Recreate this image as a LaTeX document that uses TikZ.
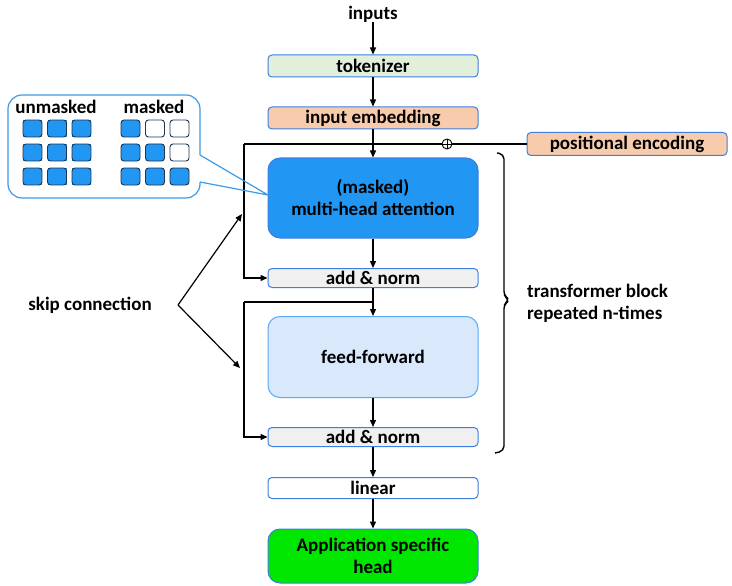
\documentclass[tikz,border=0pt]{standalone}
\usepackage{fontspec}
\setmainfont{Carlito}
\usetikzlibrary{arrows.meta}
\definecolor{boxedge}{HTML}{3D7FE0}
\definecolor{tokfill}{HTML}{E2EFDA}
\definecolor{embfill}{HTML}{F8CBAD}
\definecolor{attfill}{HTML}{2196F3}
\definecolor{fffill}{HTML}{DAE8FC}
\definecolor{ffedge}{HTML}{5BA8F5}
\definecolor{normfill}{HTML}{F0F0F0}
\definecolor{headfill}{HTML}{00E600}
\definecolor{calloutedge}{HTML}{3C9BE8}
\definecolor{cellfill}{HTML}{2196F3}
\definecolor{celledge}{HTML}{1F3550}
\tikzset{
  x=1pt, y=-1pt,
  lbl/.style={font=\fontsize{19}{21}\selectfont\bfseries, inner sep=0pt},
  layer/.style={lbl, draw=boxedge, line width=1pt, rounded corners=4pt,
    minimum width=210pt, align=center},
  big/.style={layer, rounded corners=12pt},
  flow/.style={line width=1.4pt, -{Triangle[length=7pt,width=6pt]}},
  wire/.style={line width=1.4pt},
  cell/.style={draw=celledge, line width=0.9pt, rounded corners=3pt},
}
\begin{document}
\begin{tikzpicture}
\useasboundingbox (0,0) rectangle (732,586);

% main stack
\node[lbl] (inputs) at (373,14) {inputs};
\node[layer, fill=tokfill, minimum height=22pt] (tok) at (373,66) {tokenizer};
\node[layer, fill=embfill, minimum height=22pt] (emb) at (373,118) {input embedding};
\node[layer, fill=embfill, minimum width=200pt, minimum height=23pt] (pe) at (627,144) {positional encoding};
\node[big, fill=attfill, minimum height=80pt] (att) at (373,198) {(masked)\\[1pt]multi-head attention};
\node[layer, fill=normfill, minimum height=19pt] (add1) at (373,278) {add \& norm};
\node[big, fill=fffill, draw=ffedge, minimum height=81pt] (ff) at (373,357) {feed-forward};
\node[layer, fill=normfill, minimum height=19pt] (add2) at (373,437) {add \& norm};
\node[layer, fill=white, minimum height=21pt] (lin) at (373,488) {linear};
\node[big, fill=headfill, minimum height=54pt] (head) at (373,556) {Application specific\\[1pt]head};

% positional encoding joins the stream
\node[draw, circle, line width=0.9pt, minimum size=10pt, inner sep=0pt, fill=white,
  path picture={\draw[line width=0.9pt] (path picture bounding box.north) -- (path picture bounding box.south)
    (path picture bounding box.west) -- (path picture bounding box.east);}] (plus) at (447,144) {};
\coordinate (lefttop) at (244,144);
\draw[wire] (pe.west) -- (plus.east);
\draw[wire] (plus.west) -- (lefttop);
\draw[flow] (lefttop) |- (add1.west);

% forward connections
\draw[flow] (inputs.south) -- (tok.north);
\draw[flow] (tok.south) -- (emb.north);
\draw[flow] (emb.south) -- (att.north);
\draw[flow] (att.south) -- (add1.north);
\draw[flow] (add1.south) -- (ff.north);
\draw[flow] (ff.south) -- (add2.north);
\draw[flow] (add2.south) -- (lin.north);
\draw[flow] (lin.south) -- (head.north);

% second residual path
\coordinate (branch) at (373,302);
\coordinate (leftmid) at (244,302);
\draw[wire] (branch) -- (leftmid);
\draw[flow] (leftmid) |- (add2.west);

% skip connection label and pointers
\node[lbl] (skip) at (90,305) {skip connection};
\coordinate (fork) at (178,305);
\coordinate (skipa) at (242,214);
\coordinate (skipb) at (240,368);
\draw[flow, line width=1.2pt] (fork) -- (skipa);
\draw[flow, line width=1.2pt] (fork) -- (skipb);

% brace around the repeated block
\draw[line width=1.4pt, rounded corners=5pt] (497,153) -- (504,154) -- (504,296) -- (510,300) -- (504,304) -- (504,451) -- (495,453);
\node[lbl, anchor=west, align=left] (rep) at (527,303) {transformer block\\[1pt]repeated n-times};

% callout with attention masks
\draw[calloutedge, line width=1.2pt, fill=white, rounded corners=14pt]
  (200,155) -- (200,95) -- (8,95) -- (8,198) -- (200,198) -- (200,182);
\coordinate (tip) at (268,195);
\draw[calloutedge, line width=1.2pt] (200,155) -- (tip) -- (200,182);
\node[lbl] (unm) at (56,107) {unmasked};
\node[lbl] (msk) at (154,107) {masked};
\foreach \r in {0,1,2} {
  \foreach \c in {0,1,2} {
    \fill[cellfill] (23+24.5*\c,120+24*\r) rectangle ++(19,17);
    \draw[cell] (23+24.5*\c,120+24*\r) rectangle ++(19,17);
  }
}
\foreach \r/\c/\f in {0/0/cellfill,0/1/white,0/2/white,1/0/cellfill,1/1/cellfill,1/2/white,2/0/cellfill,2/1/cellfill,2/2/cellfill} {
  \draw[cell, fill=\f] (121+24.5*\c,120+24*\r) rectangle ++(19,17);
}
\end{tikzpicture}
\end{document}
